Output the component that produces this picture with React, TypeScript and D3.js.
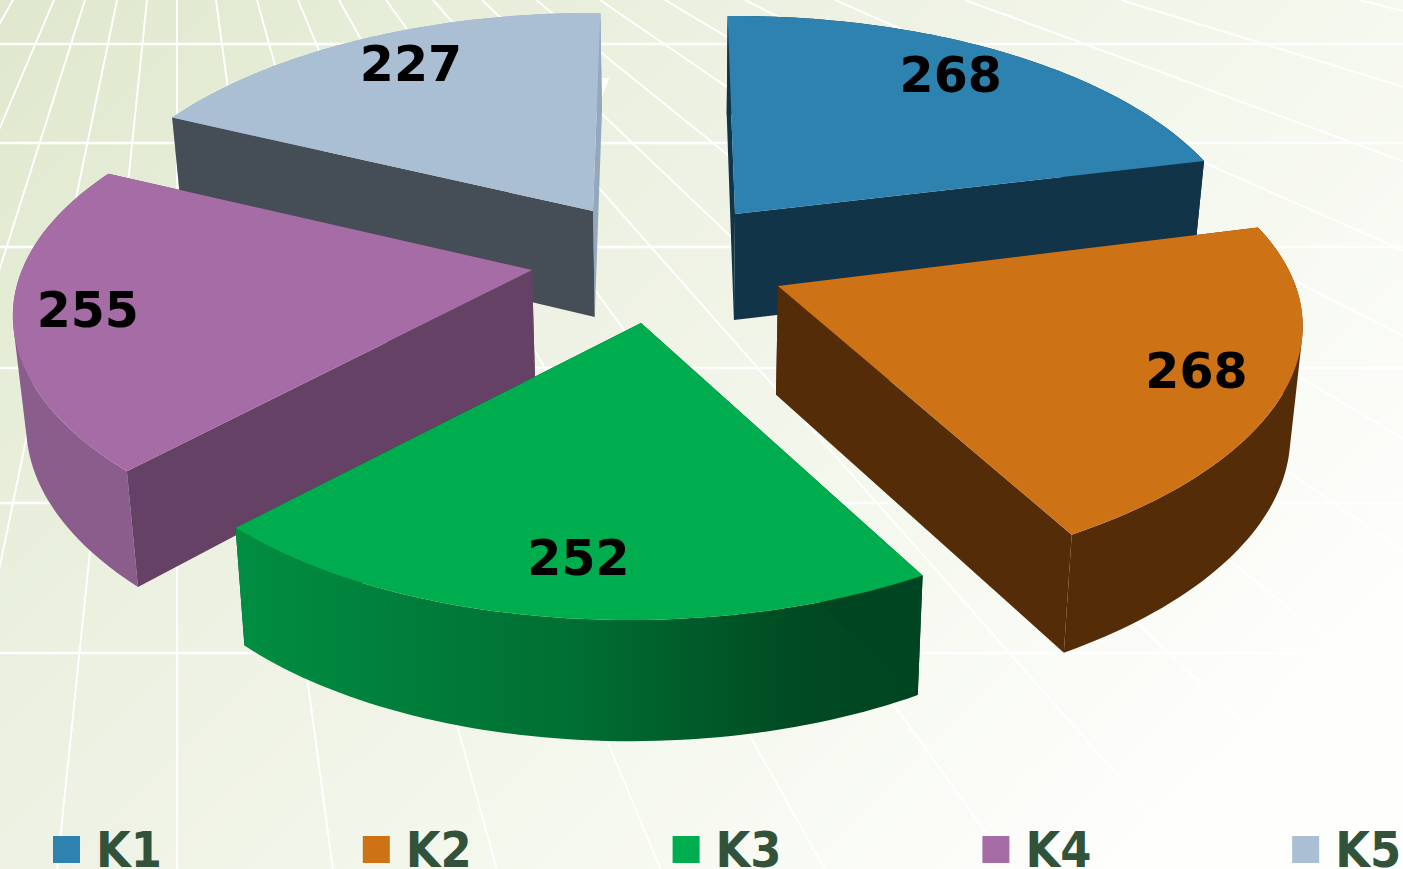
import React from 'react';
import * as d3 from 'd3';

const categories = ['K1', 'K2', 'K3', 'K4', 'K5'];
const values = [268, 268, 252, 255, 227];
const topColors = ['#2e82b0', '#ce7216', '#00ad4e', '#a56ca6', '#aabfd4'];
const wallColors = ['#123448', '#552c08', '#004521', '#654265', '#454e56'];
const outerColors = ['#123448', '#552c08', 'url(#k3side)', '#8b5d8c', '#94a8bc'];
const endWallColors = ['#123448', '#552c08', '#004521', '#654265', '#94a8bc'];

// background floor grid
const gridTopX = [13, 54, 85, 117, 147, 177, 216, 257, 298, 339, 386, 433, 482, 536, 600, 665, 745, 835, 965, 1121, 1359];
const gridY = [44, 143, 247, 368, 503, 653];

const W = 1403;
const H = 869;

// exploded centre of every slice on screen
const apexes = [[735, 214], [778, 286], [641, 323], [532, 270], [593, 211]];
// small fitting per slice, the picture is not a clean projection
const startNudge = [-1, -1, -0.7, 0.2, -0.4];
const endNudge = [0.5, -2, -0.7, 0.5, 1];
const scaleX = [1, 1.025, 0.99, 1.01, 1];
const skewX = [0, 0.08, 0.04, -0.03, 0];
const labelDx = [-11, 1, 7, -16, 12];
const labelDy = [-2, 4, 0, 4, -1];
const drawOrder = [4, 0, 3, 1, 2];

// perspective of the pie plane
const radiusX = 505;
const radiusY = 237.6;
const persp = 0.2;
const rad = Math.PI / 180;

const project = (i: number, angle: number, r = 1) => {
  const apex = apexes[i];
  const back = r * Math.cos(angle);
  const w = 1 + persp * back;
  const dy = -(radiusY * back) / w;
  const dx = (radiusX * scaleX[i] * r * Math.sin(angle)) / w - skewX[i] * dy;
  return [apex[0] + dx, apex[1] + dy];
};

// the lower plane of the pie, further from the camera
const lower = (p: number[]) => [680 + (p[0] - 680) * 0.98, p[1] + 98 + 0.0374 * p[1]];

const line = d3.line();

const App = () => {
  const pie = d3.pie<number>().sort(null).value((d) => d);
  const arcs = pie(values);

  const slices = arcs.map((a, i) => {
    const start = a.startAngle + startNudge[i] * rad;
    const end = a.endAngle + endNudge[i] * rad;
    const apex = apexes[i];
    const steps = 60;
    const rim = d3.range(0, steps + 1).map((k) => project(i, start + ((end - start) * k) / steps));
    const rimLow = rim.map(lower);
    const top = line([apex, ...rim]) + 'Z';
    // one quad per step, all wound the same way, so the side keeps its full silhouette
    const outer = d3
      .range(0, steps)
      .map((k) => {
        const quad = [rim[k], rim[k + 1], rimLow[k + 1], rimLow[k]] as [number, number][];
        return line(d3.polygonArea(quad) < 0 ? quad.reverse() : quad) + 'Z';
      })
      .join('');
    const apexLow = lower(apex);
    const wallStart = line([apex, rim[0], rimLow[0], apexLow]) + 'Z';
    const wallEnd = line([apex, rim[steps], rimLow[steps], apexLow]) + 'Z';
    const label = project(i, (a.startAngle + a.endAngle) / 2 + ((startNudge[i] + endNudge[i]) / 2) * rad, 0.83);
    return { i, top, outer, wallStart, wallEnd, label };
  });

  const vanishY = -290;
  const vanishX = 177;

  return (
    <svg width={W} height={H} style={{ position: 'absolute', left: 0, top: 0, display: 'block' }}>
      <defs>
        <linearGradient id="bg" gradientUnits="userSpaceOnUse" x1="0" y1="0" x2="1000" y2="1000">
          <stop offset="0" stopColor="#dfe8cd" />
          <stop offset="0.2" stopColor="#e6edd8" />
          <stop offset="0.4" stopColor="#edf1e2" />
          <stop offset="0.7" stopColor="#f5f8ee" />
          <stop offset="0.9" stopColor="#fbfcf8" />
          <stop offset="1" stopColor="#fefefd" />
        </linearGradient>
        <linearGradient id="k3side" gradientUnits="userSpaceOnUse" x1="237" y1="0" x2="922" y2="0">
          <stop offset="0" stopColor="#008e42" />
          <stop offset="0.5" stopColor="#006e32" />
          <stop offset="0.82" stopColor="#004a22" />
          <stop offset="1" stopColor="#004521" />
        </linearGradient>
      </defs>
      <rect width={W} height={H} fill="url(#bg)" />
      <g stroke="#fff" strokeWidth={1.9}>
        {gridTopX.map((x) => {
          const slope = (x - vanishX) / -vanishY;
          return <line key={x} x1={x} y1={0} x2={x + slope * H} y2={H} />;
        })}
        {gridY.map((y) => (
          <line key={y} x1={0} x2={W} y1={y} y2={y} strokeWidth={2.6} />
        ))}
      </g>
      <path d="M601,78L609,78L602,97Z" fill="#fff" />

      {drawOrder.map((i) => {
        const s = slices[i];
        return (
          <g key={categories[i]}>
            <path d={s.wallEnd} fill={endWallColors[i]} />
            <path d={s.outer} fill={outerColors[i]} />
            <path d={s.wallStart} fill={wallColors[i]} />
            <path d={s.top} fill={topColors[i]} />
          </g>
        );
      })}

      <g fontFamily="'DejaVu Sans'" fontWeight="bold" fontSize={49} textAnchor="middle" fill="#000">
        {slices.map((s) => (
          <text key={s.i} x={s.label[0] + labelDx[s.i]} y={s.label[1] + labelDy[s.i]} dy={17.5}>
            {values[s.i]}
          </text>
        ))}
      </g>

      <g>
        {categories.map((c, i) => (
          <g key={c} transform={`translate(${53 + 309.8 * i},0)`}>
            <rect x={0} y={836} width={27} height={27} fill={topColors[i]} />
            <text
              x={43}
              y={867}
              fontFamily="'DejaVu Sans'"
              fontWeight="bold"
              fontSize={50}
              fill="#33523a"
              textLength={66}
              lengthAdjust="spacingAndGlyphs"
            >
              {c}
            </text>
          </g>
        ))}
      </g>
    </svg>
  );
};

export default App;
